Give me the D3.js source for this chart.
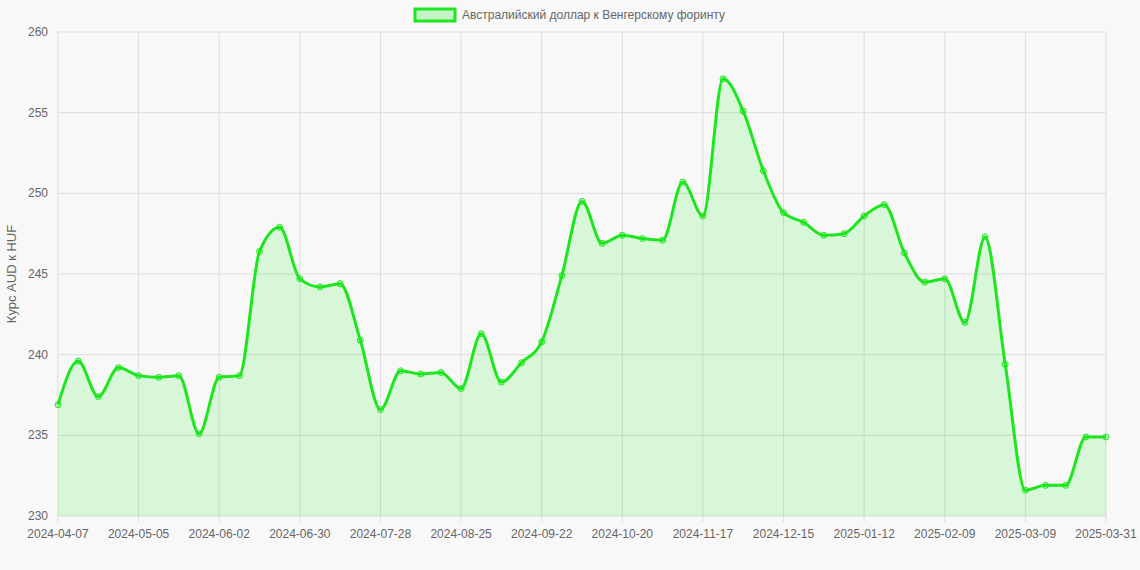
<!DOCTYPE html>
<html><head><meta charset="utf-8">
<script src="https://cdn.jsdelivr.net/npm/d3@7"></script>
<style>body{margin:0;background:#f8f8f8;font-family:"Liberation Sans",Arial,sans-serif}</style>
</head><body><svg id="c" width="1140" height="570"></svg>
<script>
const dates=["2024-04-07","2024-04-14","2024-04-21","2024-04-28","2024-05-05","2024-05-12","2024-05-19","2024-05-26","2024-06-02","2024-06-09","2024-06-16","2024-06-23","2024-06-30","2024-07-07","2024-07-14","2024-07-21","2024-07-28","2024-08-04","2024-08-11","2024-08-18","2024-08-25","2024-09-01","2024-09-08","2024-09-15","2024-09-22","2024-09-29","2024-10-06","2024-10-13","2024-10-20","2024-10-27","2024-11-03","2024-11-10","2024-11-17","2024-11-24","2024-12-01","2024-12-08","2024-12-15","2024-12-22","2024-12-29","2025-01-05","2025-01-12","2025-01-19","2025-01-26","2025-02-02","2025-02-09","2025-02-16","2025-02-23","2025-03-02","2025-03-09","2025-03-16","2025-03-23","2025-03-30","2025-03-31"];
const values=[236.9,239.6,237.4,239.2,238.7,238.6,238.7,235.1,238.6,238.7,246.4,247.9,244.7,244.2,244.4,240.9,236.6,239.0,238.8,238.9,237.9,241.3,238.3,239.5,240.8,244.9,249.5,246.9,247.4,247.2,247.1,250.7,248.6,257.1,255.1,251.4,248.8,248.2,247.4,247.5,248.6,249.3,246.3,244.5,244.7,242.0,247.3,239.4,231.6,231.9,231.9,234.9,234.9];
const tickLabels=["2024-04-07","2024-05-05","2024-06-02","2024-06-30","2024-07-28","2024-08-25","2024-09-22","2024-10-20","2024-11-17","2024-12-15","2025-01-12","2025-02-09","2025-03-09","2025-03-31"];
const yTicks=[230,235,240,245,250,255,260];
const seriesName="Австралийский доллар к Венгерскому форинту";
const svg=d3.select("#c");
const L=58,R=1106,T=32,B=516;
const x=d3.scalePoint().domain(dates).range([L,R]);
const y=d3.scaleLinear().domain([230,260]).range([B,T]);
const g=svg.append("g");
g.selectAll(".gy").data(yTicks).join("line").attr("x1",L).attr("x2",R).attr("y1",d=>y(d)).attr("y2",d=>y(d)).attr("stroke","#ddd");
g.selectAll(".gx").data(tickLabels).join("line").attr("x1",d=>x(d)).attr("x2",d=>x(d)).attr("y1",T).attr("y2",B+6).attr("stroke","#ddd");
g.selectAll(".yt").data(yTicks).join("text").attr("x",L-10).attr("y",d=>y(d)+4).attr("text-anchor","end").attr("font-size",12).attr("fill","#666").text(d=>d);
g.selectAll(".xt").data(tickLabels).join("text").attr("x",d=>x(d)).attr("y",B+22).attr("text-anchor","middle").attr("font-size",12).attr("fill","#666").text(d=>d);
svg.append("text").attr("transform","translate(16,274) rotate(-90)").attr("text-anchor","middle").attr("font-size",13).attr("fill","#666").text("Курс AUD к HUF");
const area=d3.area().x((d,i)=>x(dates[i])).y0(B).y1(d=>y(d)).curve(d3.curveMonotoneX);
const line=d3.line().x((d,i)=>x(dates[i])).y(d=>y(d)).curve(d3.curveMonotoneX);
svg.append("path").attr("d",area(values)).attr("fill","rgba(0,230,0,0.13)");
svg.append("path").attr("d",line(values)).attr("fill","none").attr("stroke","#1ee61e").attr("stroke-width",3);
svg.selectAll(".pt").data(values).join("circle").attr("cx",(d,i)=>x(dates[i])).attr("cy",d=>y(d)).attr("r",3).attr("fill","rgba(0,230,0,0.2)").attr("stroke","#1ee61e").attr("stroke-width",1);
svg.append("rect").attr("x",415).attr("y",9).attr("width",40).attr("height",12).attr("fill","rgba(0,230,0,0.2)").attr("stroke","#1ee61e").attr("stroke-width",3);
svg.append("text").attr("x",462).attr("y",19).attr("font-size",12).attr("fill","#666").text(seriesName);
</script></body></html>
